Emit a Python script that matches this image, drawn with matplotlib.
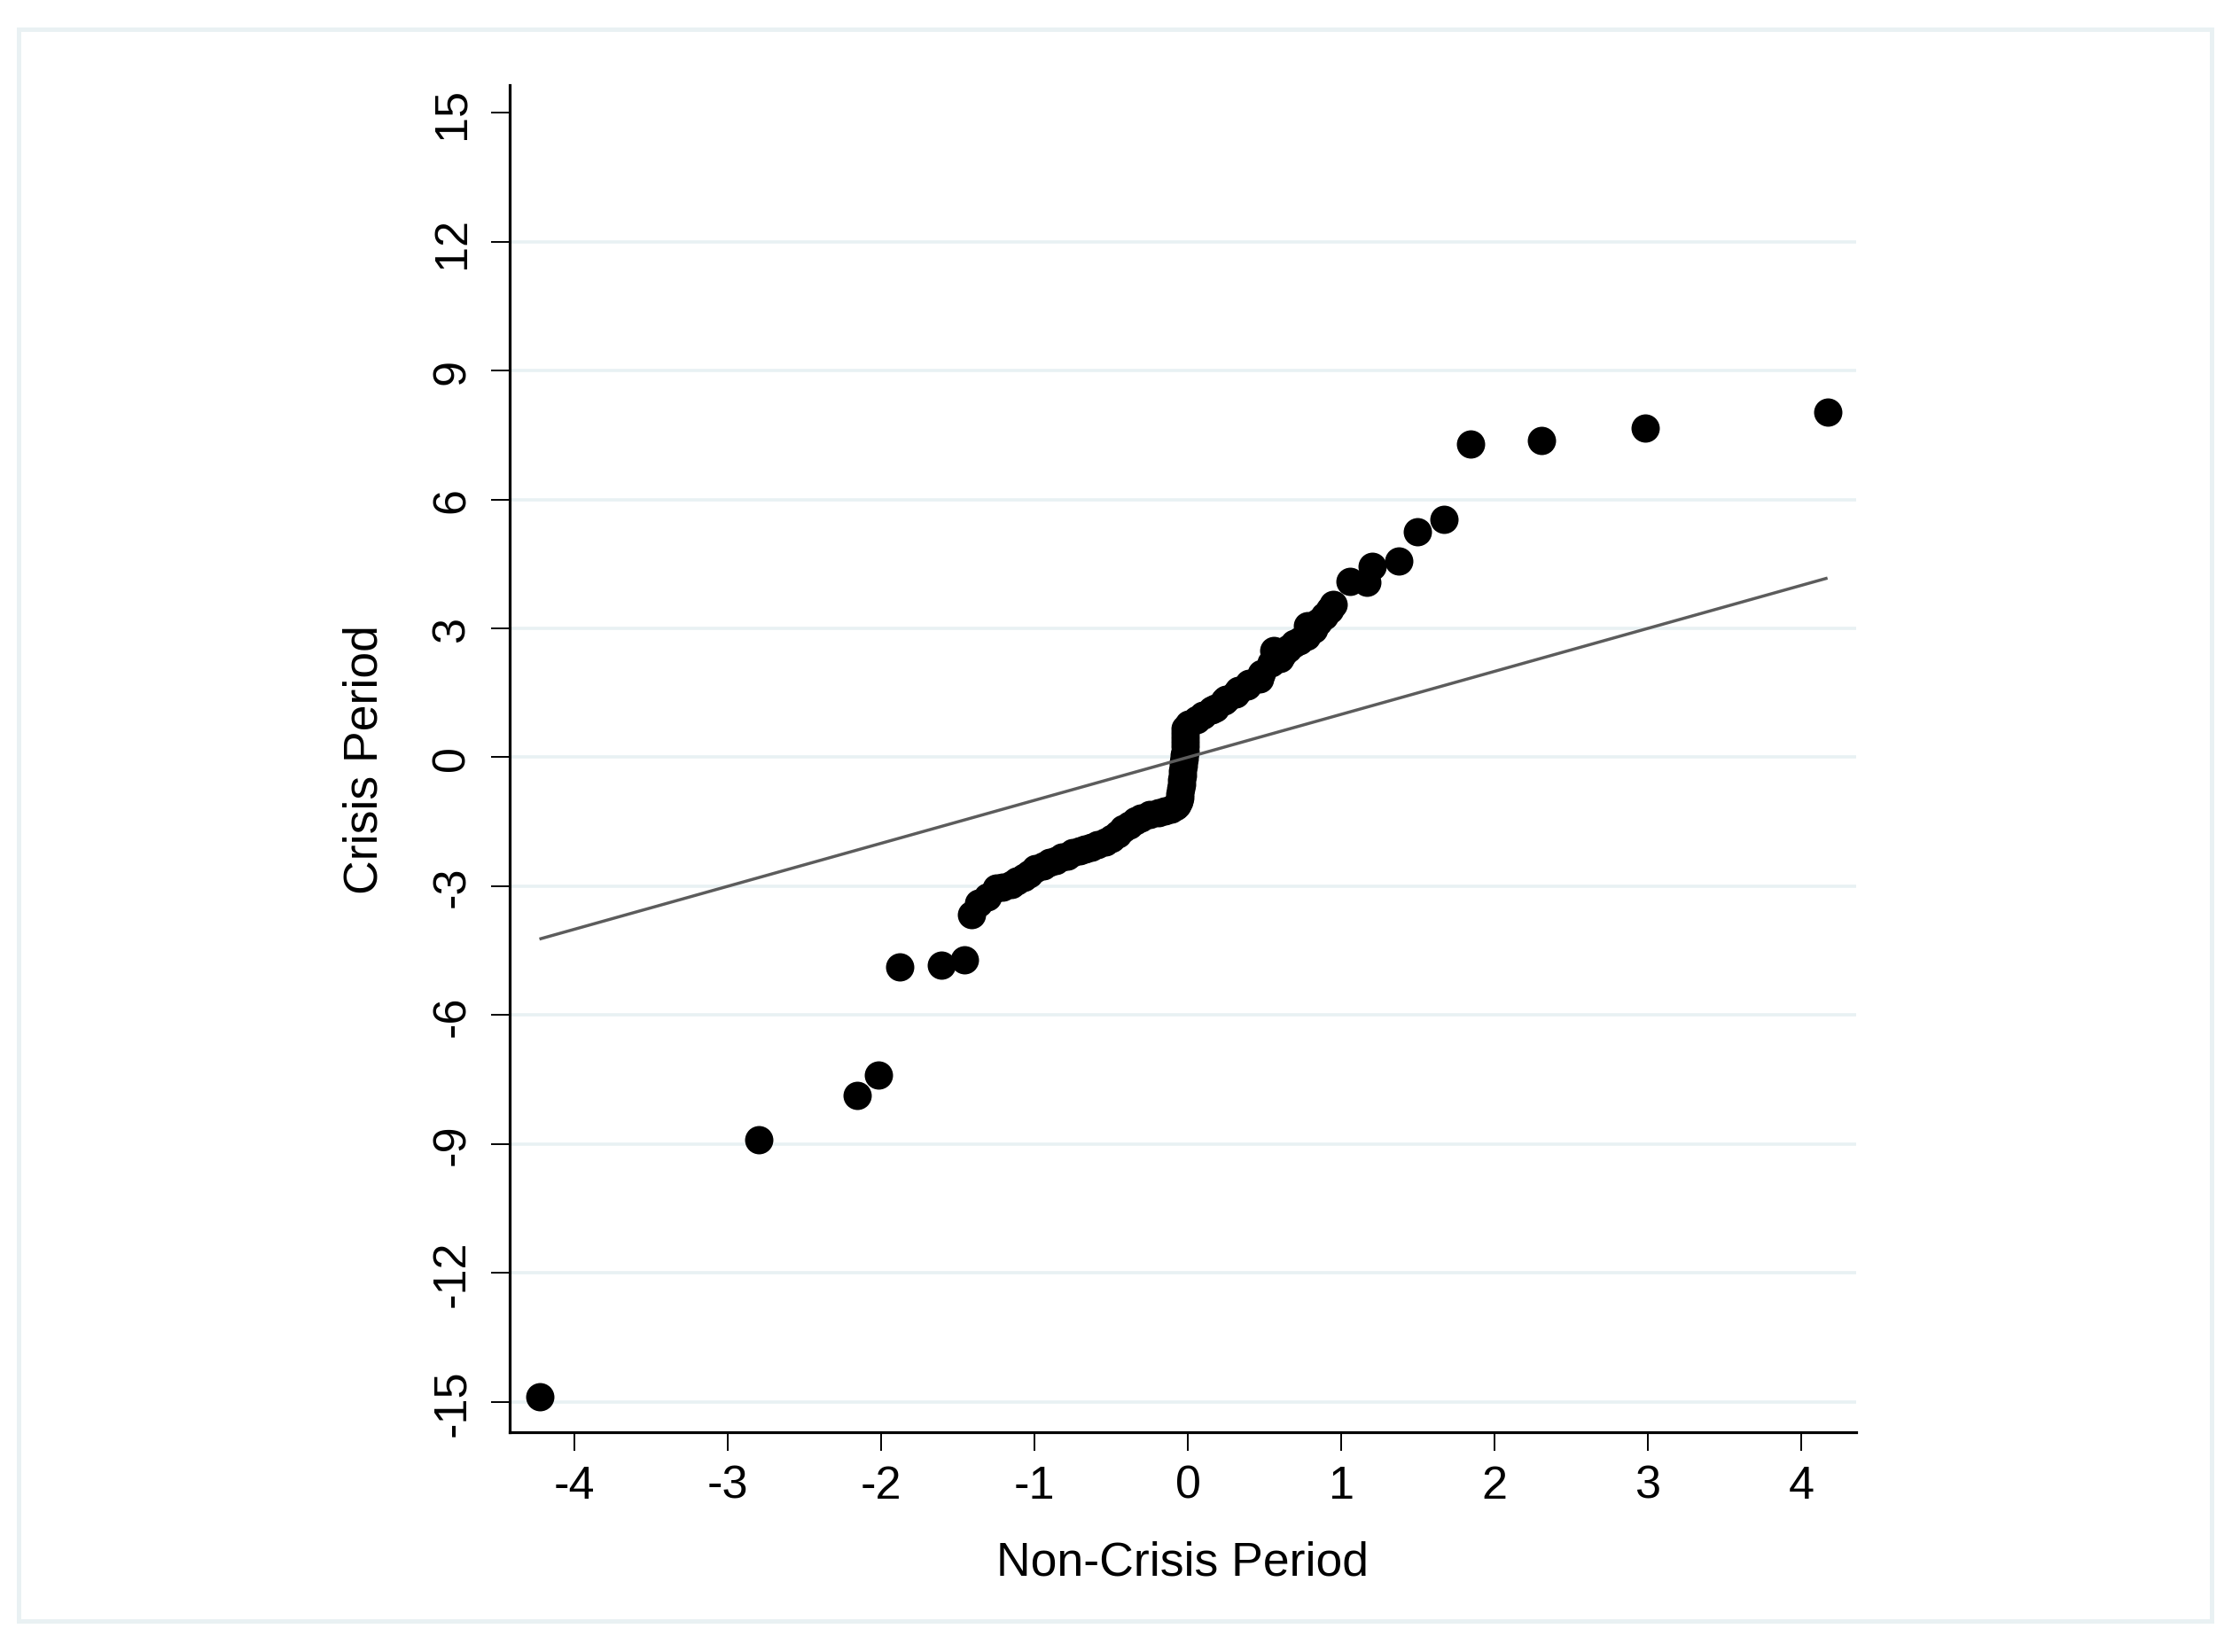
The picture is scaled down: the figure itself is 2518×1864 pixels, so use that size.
import matplotlib
matplotlib.use("Agg")
import matplotlib.pyplot as plt
from matplotlib.patches import Rectangle

plt.rcParams['font.family'] = ['Liberation Sans', 'DejaVu Sans']

# Quantile pairs (Non-Crisis quantile, Crisis quantile)
non_crisis = [
    -4.23, -2.80, -2.16, -2.02, -1.88, -1.61, -1.455, -1.41,
    -1.364, -1.307, -1.249, -1.21, -1.15, -1.114, -1.07, -1.037, -0.998,
    -0.941, -0.90, -0.864, -0.82, -0.787, -0.75, -0.709, -0.67, -0.633,
    -0.59, -0.536, -0.50, -0.459, -0.42, -0.382, -0.344, -0.305, -0.247,
    -0.189, -0.151, -0.113, -0.08,
    -0.07, -0.06, -0.055, -0.05, -0.045, -0.04, -0.04, -0.035, -0.035,
    -0.03, -0.03, -0.025, -0.025, -0.02, -0.02, -0.02, -0.02, -0.02, -0.02,
    0.003, 0.06, 0.10, 0.154, 0.18, 0.234, 0.25, 0.311, 0.33, 0.388, 0.40,
    0.465, 0.48, 0.542, 0.561, 0.60, 0.619, 0.65, 0.696, 0.73, 0.773,
    0.78, 0.82, 0.85, 0.889, 0.927, 0.946,
    1.057, 1.168, 1.20, 1.375, 1.497, 1.67, 1.846, 2.304, 2.985, 4.172,
]
crisis = [
    -14.88, -8.90, -7.86, -7.40, -4.87, -4.83, -4.71, -3.67,
    -3.40, -3.25, -3.05, -3.02, -2.95, -2.88, -2.80, -2.72, -2.58,
    -2.52, -2.45, -2.40, -2.33, -2.29, -2.22, -2.18, -2.13, -2.09,
    -2.04, -1.97, -1.88, -1.78, -1.66, -1.57, -1.47, -1.41, -1.33,
    -1.28, -1.24, -1.20, -1.15,
    -1.10, -1.02, -0.94, -0.85, -0.74, -0.63, -0.52, -0.42, -0.31,
    -0.20, -0.11, -0.03, 0.05, 0.14, 0.25, 0.36, 0.46, 0.57, 0.67,
    0.78, 0.88, 0.98, 1.10, 1.15, 1.30, 1.36, 1.47, 1.55, 1.65, 1.72,
    1.82, 1.95, 2.20, 2.49, 2.30, 2.40, 2.52, 2.64, 2.72, 2.82,
    3.07, 2.98, 3.14, 3.28, 3.43, 3.56,
    4.10, 4.08, 4.45, 4.57, 5.24, 5.54, 7.30, 7.37, 7.66, 8.03,
]
x_ticks = [-4, -3, -2, -1, 0, 1, 2, 3, 4]
y_ticks = [-15, -12, -9, -6, -3, 0, 3, 6, 9, 12, 15]
grid_levels = [-15, -12, -9, -6, -3, 0, 3, 6, 9, 12]
x_label = "Non-Crisis Period"
y_label = "Crisis Period"

W, H = 2518, 1865
fig = plt.figure(figsize=(W / 100, H / 100), dpi=100)
fig.patch.set_facecolor('white')

# outer light frame
fig.patches.append(Rectangle((21 / W, 1 - 1830 / H), (2495 - 21) / W, (1830 - 34) / H,
                             transform=fig.transFigure, fill=False,
                             edgecolor='#e9f1f3', linewidth=3.6, zorder=0))

left, right, top, bottom = 575, 2094, 96.7, 1616.7
ax = fig.add_axes([left / W, 1 - bottom / H, (right - left) / W, (bottom - top) / H])
ax.set_xlim(-4.424, 4.359)
ax.set_ylim(-15.70, 15.65)

for g in grid_levels:
    ax.axhline(g, color='#e8f1f3', linewidth=2.6, zorder=0)

ax.scatter(non_crisis, crisis, s=23.0 ** 2, color='black', linewidths=0, zorder=2)
lo, hi = min(non_crisis), max(non_crisis)
ax.plot([lo, hi], [lo, hi], color='#5c5c5c', linewidth=2.5, zorder=3,
        solid_capstyle='butt')

for s in ['top', 'right']:
    ax.spines[s].set_visible(False)
for s in ['left', 'bottom']:
    ax.spines[s].set_linewidth(2.3)
    ax.spines[s].set_color('black')

ax.set_xticks(x_ticks)
ax.set_xticklabels([str(t) for t in x_ticks])
ax.set_yticks(y_ticks)
ax.set_yticklabels([str(t) for t in y_ticks], rotation=90, va='center')
ax.tick_params(axis='both', direction='out', length=15, width=1.4, labelsize=37.5,
               colors='black')
ax.tick_params(axis='x', pad=11)
ax.tick_params(axis='y', pad=14)

fig.text(1334.5 / W, 1 - 1764 / H, x_label, ha='center', va='center', fontsize=38.5)
fig.text(411 / W, 1 - 856.7 / H, y_label, ha='center', va='center', fontsize=38.5,
         rotation=90)

fig.savefig('out.png', dpi=100, facecolor='white')
